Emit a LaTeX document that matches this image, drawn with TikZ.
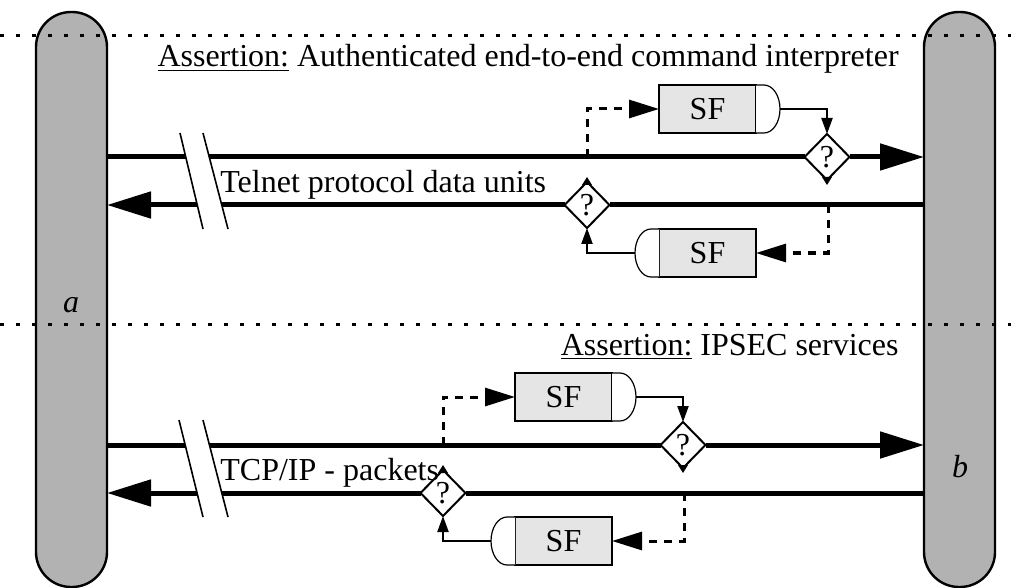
\documentclass[tikz,border=0pt]{standalone}
\usepackage{fontspec}
\setmainfont{Liberation Serif}
\usetikzlibrary{arrows.meta,shapes.geometric}

\tikzset{
	pillar/.style={draw,line width=1.2pt,fill=black!30,rounded corners=17.5pt,minimum width=35.5pt,minimum height=287.5pt,inner sep=0pt,outer sep=0pt},
	chk/.style={diamond,draw,line width=1pt,fill=white,minimum width=22.5pt,minimum height=23pt,inner sep=0pt,outer sep=0pt},
	sfbox/.style={draw,line width=0.6pt,fill=black!10,minimum width=48.5pt,minimum height=24pt,inner sep=0pt,outer sep=0pt},
	sfcap/.style={draw,line width=0.6pt,fill=white},
	pdu/.style={line width=2.5pt,-{Triangle[length=22pt,width=13pt]}},
	pdubare/.style={line width=2.5pt},
	ctl/.style={line width=1.1pt,-{Triangle[length=8pt,width=5.5pt]}},
	tap/.style={line width=1.5pt,dash pattern=on 4pt off 3.5pt,-{Triangle[length=15pt,width=9pt]}},
	sepline/.style={line width=1.5pt,dash pattern=on 2pt off 6pt},
	brk/.style={line width=0.8pt},
	txt/.style={inner sep=0pt},
}

\begin{document}
\begin{tikzpicture}[x=0.5pt,y=-0.5pt,font=\fontsize{16}{19}\selectfont]
	\useasboundingbox (0,0) rectangle (1011,588);
	\node[pillar] (a) at (71.5,299.5) {};
	\node[pillar] (b) at (959.5,299.5) {};
	\node (la) at (71,305) {\textit{a}};
	\node (lb) at (960,467) {\textit{b}};
	\draw[sepline] (0,36) -- (1011,36);
	\draw[sepline] (0,324) -- (1011,324);

	\node[txt,anchor=base east] (as1) at (899,67) {\underline{Assertion:} Authenticated end-to-end command interpreter};
	\node[txt,anchor=base east] (as2) at (899,355) {\underline{Assertion:} IPSEC services};

	\node[chk] (q1) at (827,157) {?};
	\node[chk] (q2) at (587,205) {?};
	\node[chk] (q3) at (683,445) {?};
	\node[chk] (q4) at (443,493) {?};
	\fill (q1.south) ++(-5,-3) -- ++(10,0) -- ++(-5,8) -- cycle;
	\fill (q2.north) ++(-5,3) -- ++(10,0) -- ++(-5,-8) -- cycle;
	\fill (q3.south) ++(-5,-3) -- ++(10,0) -- ++(-5,8) -- cycle;
	\fill (q4.north) ++(-5,3) -- ++(10,0) -- ++(-5,-8) -- cycle;

	\draw[pdubare] (a.east |- q1) -- (q1.west);
	\draw[pdu] (q1.east) -- (b.west |- q1);
	\draw[pdubare] (b.west |- q2) -- (q2.east);
	\draw[pdu] (q2.west) -- (a.east |- q2);
	\draw[pdubare] (a.east |- q3) -- (q3.west);
	\draw[pdu] (q3.east) -- (b.west |- q3);
	\draw[pdubare] (b.west |- q4) -- (q4.east);
	\draw[pdu] (q4.west) -- (a.east |- q4);

	\fill[white] (180,133) -- (203,133) -- (228,229) -- (203,229) -- cycle;
	\draw[brk] (180,133) -- (203,229);
	\draw[brk] (203,133) -- (228,229);
	\fill[white] (179,420) -- (203,420) -- (228,517) -- (203,517) -- cycle;
	\draw[brk] (179,420) -- (203,517);
	\draw[brk] (203,420) -- (228,517);

	\node[txt,anchor=base west] (telnet) at (220,193) {Telnet protocol data units};
	\node[txt,anchor=base west] (tcpip) at (220,480) {TCP/IP - packets};

	\node[sfbox] (sf1) at (707.5,109) {SF};
	\node[sfbox] (sf2) at (707.5,253) {SF};
	\node[sfbox] (sf3) at (563.5,397) {SF};
	\node[sfbox] (sf4) at (563.5,541) {SF};
	\draw[sfcap] (sf1.north east) -- ++(8,0) arc[start angle=90,end angle=-90,x radius=8pt,y radius=12pt] -- (sf1.south east);
	\draw[sfcap] (sf2.north west) -- ++(-8,0) arc[start angle=90,end angle=270,x radius=8pt,y radius=12pt] -- (sf2.south west);
	\draw[sfcap] (sf3.north east) -- ++(8,0) arc[start angle=90,end angle=-90,x radius=8pt,y radius=12pt] -- (sf3.south east);
	\draw[sfcap] (sf4.north west) -- ++(-8,0) arc[start angle=90,end angle=270,x radius=8pt,y radius=12pt] -- (sf4.south west);
	\coordinate (sf1out) at (780,109);
	\coordinate (sf2out) at (635,253);
	\coordinate (sf3out) at (636,397);
	\coordinate (sf4out) at (491,541);
	\coordinate (t1) at (587,157);
	\coordinate (t2) at (828,205);
	\coordinate (t3) at (443,445);
	\coordinate (t4) at (684,493);

	\draw[ctl] (sf1out) -| (q1.north);
	\draw[ctl] (sf2out) -| (q2.south);
	\draw[ctl] (sf3out) -| (q3.north);
	\draw[ctl] (sf4out) -| (q4.south);
	\draw[tap] (t1) |- (sf1.west);
	\draw[tap] (t2) |- (sf2.east);
	\draw[tap] (t3) |- (sf3.west);
	\draw[tap] (t4) |- (sf4.east);
\end{tikzpicture}
\end{document}
